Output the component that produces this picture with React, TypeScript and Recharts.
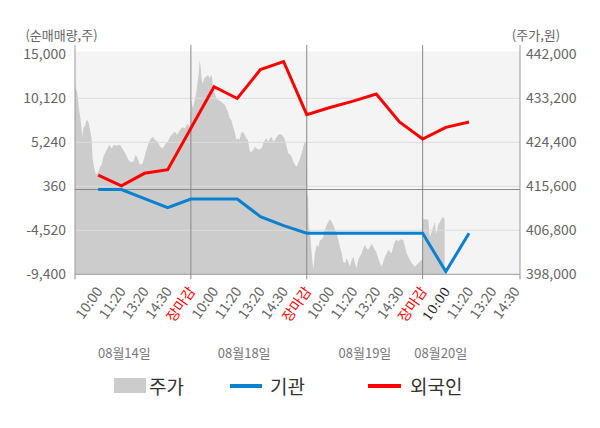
import React from 'react';
import {
  ComposedChart,
  Area,
  Line,
  XAxis,
  YAxis,
  CartesianGrid,
  ReferenceLine,
  ReferenceArea,
} from 'recharts';

// x slots: 0 = day-1 open, one slot per time label
const slotLabels = [
  '', '10:00', '11:20', '13:20', '14:30', '장마감',
  '10:00', '11:20', '13:20', '14:30', '장마감',
  '10:00', '11:20', '13:20', '14:30', '장마감',
  '10:00', '11:20', '13:20', '14:30',
];
const timeTicks = [0, 1, 2, 3, 4, 5, 6, 7, 8, 9, 10, 11, 12, 13, 14, 15, 16, 17, 18, 19, 19.2];
const daySlots = [5, 10, 15];
const dateLabels = ['08월14일', '08월18일', '08월19일', '08월20일'];
const datePositions = [2.13, 7.3, 12.51, 15.78];

const volumeTicks = [-9400, -4520, 360, 5240, 10120, 15000];
const priceTicks = [398000, 406800, 415600, 424400, 433200, 442000];

// net buying (shares)
const flowSlots = [1, 2, 3, 4, 5, 6, 7, 8, 9, 10, 11, 12, 13, 14, 15, 16, 17];
const foreignNet = [1600, 400, 1800, 2200, 6800, 11400, 10100, 13300, 14200, 8300, 9100, 9800, 10600, 7500, 5600, 6900, 7500];
const institutionNet = [0, 0, -1000, -2000, -1050, -1050, -1050, -3000, -4000, -4850, -4850, -4850, -4850, -4850, -4850, -9100, -4850];

// intraday price
const priceSlots = [
  0.0, 0.1, 0.17, 0.24, 0.32, 0.36, 0.43, 0.5, 0.58, 0.65, 0.72, 0.76, 0.83, 0.91, 1.01, 1.08, 1.15, 1.22, 1.37, 1.48,
  1.58, 1.68, 1.8, 1.94, 2.08, 2.2, 2.3, 2.37, 2.52, 2.62, 2.7, 2.8, 2.92, 3.02, 3.12, 3.24, 3.35, 3.45, 3.57, 3.67,
  3.78, 3.88, 4.0, 4.1, 4.21, 4.31, 4.41, 4.53, 4.63, 4.75, 4.82, 4.92, 4.98,
  5.02, 5.09, 5.23, 5.28, 5.34, 5.38, 5.42, 5.48, 5.52, 5.57, 5.66, 5.74, 5.81, 5.88, 5.92, 5.95, 6.03, 6.1, 6.17, 6.31,
  6.46, 6.53, 6.6, 6.67, 6.74, 6.82, 6.89, 6.96, 7.03, 7.1, 7.17, 7.25, 7.32, 7.39, 7.46, 7.55, 7.62, 7.69, 7.77, 7.84,
  7.91, 8.05, 8.12, 8.2, 8.27, 8.34, 8.41, 8.49, 8.55, 8.63, 8.77, 8.84, 8.92, 8.99, 9.06, 9.13, 9.2, 9.28, 9.35, 9.42,
  9.49, 9.56, 9.63, 9.71, 9.78, 9.85, 9.92, 9.98,
  10.02, 10.06, 10.08, 10.14, 10.21, 10.28, 10.35, 10.43, 10.5, 10.57, 10.64, 10.71, 10.78, 10.86, 10.93, 11.0, 11.07,
  11.14, 11.22, 11.29, 11.36, 11.43, 11.51, 11.57, 11.65, 11.72, 11.79, 11.86, 11.94, 12.01, 12.08, 12.15, 12.22, 12.29,
  12.37, 12.44, 12.51, 12.58, 12.65, 12.73, 12.8, 12.87, 12.94, 13.02, 13.08, 13.16, 13.23, 13.3, 13.37, 13.45, 13.52,
  13.59, 13.66, 13.73, 13.8, 13.88, 13.95, 14.02, 14.09, 14.16, 14.24, 14.31, 14.38, 14.45, 14.53, 14.59, 14.67, 14.74,
  14.81, 14.88, 14.96, 14.99,
  15.02, 15.1, 15.24, 15.31, 15.39, 15.46, 15.53, 15.57, 15.63, 15.67, 15.75, 15.82, 15.89, 15.95,
];
const prices = [
  435700, 434200, 431200, 428900, 425500, 427200, 427700, 428900, 428500, 426900, 424900, 421200, 419200, 417900, 418500, 419500, 419900, 421500, 422900, 423900,
  423200, 423900, 423700, 423900, 422900, 421900, 420900, 420500, 420500, 421900, 421200, 419900, 420200, 421900, 423500, 424900, 425500, 424900, 424500, 423500,
  423200, 423900, 424500, 425500, 426100, 426500, 425900, 426900, 427400, 427200, 428000, 427800, 427200,
  432900, 431200, 434200, 436200, 438200, 440900, 439500, 436500, 436200, 437200, 437500, 437900, 437200, 437900, 437200, 435500, 434200, 433200, 432900, 432500,
  431900, 431200, 430500, 429200, 428900, 427500, 426500, 424900, 425200, 424900, 426200, 426500, 425900, 425200, 424900, 422500, 422500, 422900, 423500, 423200,
  422900, 423200, 424200, 424900, 425200, 424500, 425200, 425500, 424500, 424900, 425900, 426000, 425900, 425500, 424900, 423500, 422200, 421900, 421500, 420500,
  419900, 419500, 420200, 421200, 422200, 423500, 424500, 424500,
  413900, 413500, 407500, 406500, 402200, 398900, 402200, 403900, 403500, 404900, 404900, 405500, 406900, 407900, 408500, 409000, 408500,
  407900, 406900, 406200, 404900, 403500, 402200, 400500, 400200, 401200, 400500, 399500, 400900, 401500, 400200, 399200, 400900, 401500,
  402200, 403200, 403900, 403200, 402900, 403500, 404100, 403500, 402900, 402200, 401200, 400200, 399500, 400500, 401500, 402200, 402900,
  402500, 402200, 403500, 404500, 405000, 404500, 405000, 404900, 404900, 403500, 402200, 401500, 400900, 400200, 399900, 399500, 399900,
  400200, 400500, 400900, 400900,
  409000, 409000, 408900, 405500, 406500, 407500, 408500, 406000, 406900, 407900, 408500, 409200, 409500, 408900,
];

const flowData = flowSlots.map((s, i) => ({ slot: s, foreign: foreignNet[i], inst: institutionNet[i] }));
const priceData = priceSlots.map((s, i) => ({ slot: s, price: prices[i] }));

const FONT = "'Noto Sans CJK KR', 'Noto Sans', sans-serif";
const fmt = (v: number) => v.toLocaleString('en-US');

const TimeTick = (props: any) => {
  const { x, y, payload } = props;
  const v = payload.value as number;
  const isMark = v === 0 || daySlots.includes(v) || v === 19.2;
  const label = Number.isInteger(v) ? slotLabels[v] : '';
  const ax = x + 5;
  const ay = y + 17;
  let fill = '#666';
  let family = FONT;
  if (label === '장마감') fill = '#ff0000';
  if (v === 16) {
    fill = '#222';
    family = "'DejaVu Serif', serif";
  }
  return (
    <g>
      {isMark && <line x1={x} x2={x} y1={y} y2={y + 5} stroke="#888" />}
      {label && (
        <text
          x={ax}
          y={ay}
          transform={`rotate(-55, ${ax}, ${ay})`}
          textAnchor="end"
          fill={fill}
          fontSize={v === 16 ? 13 : 14}
          fontFamily={family}
        >
          {label}
        </text>
      )}
    </g>
  );
};

const DateTick = (props: any) => {
  const { x, y, payload, index } = props;
  const i = typeof index === 'number' ? index : datePositions.indexOf(payload.value);
  return (
    <text x={x} y={y + 13.7} textAnchor="middle" fill="#777" fontSize={13} fontFamily={FONT}>
      {dateLabels[i]}
    </text>
  );
};

export default function App() {
  return (
    <div style={{ position: 'absolute', left: 0, top: 0, width: 600, height: 428, fontFamily: FONT, background: '#fff' }}>
      <ComposedChart width={600} height={428} margin={{ top: 45, right: 0, bottom: 53.7, left: 0 }}>
        <CartesianGrid xAxisId="a" yAxisId="vol" horizontal={false} vertical={false} fill="#f4f4f4" stroke="none" />
        <XAxis
          xAxisId="b"
          type="number"
          dataKey="slot"
          domain={[0, 19.2]}
          allowDataOverflow
          ticks={datePositions}
          interval={0}
          height={30}
          tickSize={0}
          tickMargin={0}
          tickLine={false}
          axisLine={false}
          tick={<DateTick />}
        />
        <XAxis
          xAxisId="a"
          type="number"
          dataKey="slot"
          domain={[0, 19.2]}
          allowDataOverflow
          ticks={timeTicks}
          interval={0}
          height={70}
          tickSize={0}
          tickMargin={0}
          tickLine={false}
          axisLine={{ stroke: '#999' }}
          tick={<TimeTick />}
        />
        <YAxis
          yAxisId="vol"
          orientation="left"
          width={75}
          domain={[-9400, 16031]}
          allowDataOverflow
          ticks={volumeTicks}
          interval={0}
          tickSize={0}
          tickMargin={9}
          tickLine={false}
          axisLine={{ stroke: '#999' }}
          tick={{ fill: '#666', fontSize: 14 }}
          tickFormatter={fmt}
          label={{ value: '(순매매량,주)', position: 'top', dx: 24, fill: '#666', fontSize: 13 }}
        />
        <YAxis
          yAxisId="price"
          orientation="right"
          width={80}
          domain={[398000, 443860]}
          allowDataOverflow
          ticks={priceTicks}
          interval={0}
          tickSize={0}
          tickMargin={6}
          tickLine={false}
          axisLine={{ stroke: '#999' }}
          tick={{ fill: '#666', fontSize: 14 }}
          tickFormatter={fmt}
          label={{ value: '(주가,원)', position: 'top', dx: -24, fill: '#666', fontSize: 13 }}
        />
        <ReferenceArea
          xAxisId="a"
          yAxisId="vol"
          x1={0}
          x2={19.2}
          y1={15300}
          y2={16031}
          fill="#ffffff"
          fillOpacity={1}
          stroke="none"
        />
        <Area
          data={priceData}
          xAxisId="a"
          yAxisId="price"
          dataKey="price"
          type="linear"
          fill="#cccccc"
          fillOpacity={1}
          stroke="none"
          isAnimationActive={false}
        />
        {volumeTicks.slice(1, 5).map((v) => (
          <ReferenceLine key={v} xAxisId="a" yAxisId="vol" y={v} stroke="#dcdcdc" strokeWidth={1} />
        ))}
        <ReferenceLine xAxisId="a" yAxisId="vol" y={0} stroke="#888" strokeWidth={1} />
        {daySlots.map((s) => (
          <ReferenceLine key={s} xAxisId="a" yAxisId="vol" x={s} stroke="#888" strokeWidth={1} />
        ))}
        <Line
          data={flowData}
          xAxisId="a"
          yAxisId="vol"
          dataKey="inst"
          type="linear"
          stroke="#0a80d0"
          strokeWidth={3}
          dot={false}
          isAnimationActive={false}
        />
        <Line
          data={flowData}
          xAxisId="a"
          yAxisId="vol"
          dataKey="foreign"
          type="linear"
          stroke="#ff0000"
          strokeWidth={3}
          dot={false}
          isAnimationActive={false}
        />
      </ComposedChart>
      <div style={{ position: 'absolute', left: 114, top: 378, width: 32, height: 15, background: '#cccccc' }} />
      <span style={{ position: 'absolute', left: 149, top: 375, fontSize: 19, lineHeight: '22px', color: '#333' }}>주가</span>
      <div style={{ position: 'absolute', left: 230, top: 384, width: 32, height: 4, background: '#0a80d0' }} />
      <span style={{ position: 'absolute', left: 270, top: 375, fontSize: 19, lineHeight: '22px', color: '#333' }}>기관</span>
      <div style={{ position: 'absolute', left: 368, top: 384, width: 33, height: 4, background: '#ff0000' }} />
      <span style={{ position: 'absolute', left: 410, top: 375, fontSize: 19, lineHeight: '22px', color: '#333' }}>외국인</span>
    </div>
  );
}
